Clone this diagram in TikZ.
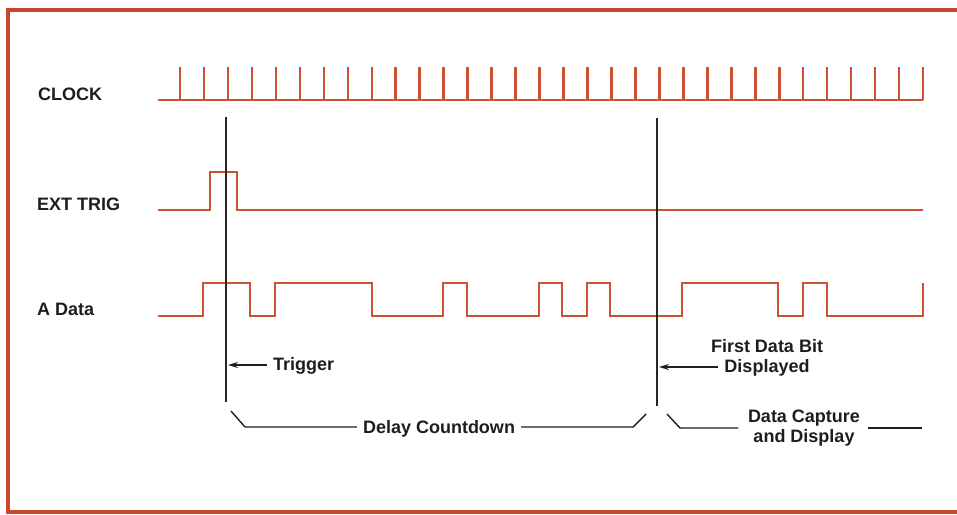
\documentclass[tikz,border=0pt]{standalone}
\usepackage{fontspec}
\setmainfont{Liberation Sans}
\usetikzlibrary{arrows.meta}
\definecolor{wave}{RGB}{205,82,52}
\definecolor{framered}{RGB}{200,70,45}
\definecolor{ink}{RGB}{30,30,30}
\begin{document}
\begin{tikzpicture}[x=1pt,y=-1pt,
  wavef/.style={draw=wave,line width=2.8pt,line join=miter},
  ticks/.style={draw=wave,line width=2.5pt},
  lbl/.style={font=\bfseries\fontsize{18}{20}\selectfont,text=ink,inner sep=0pt},
  marker/.style={draw=black!85,line width=1.6pt},
  note/.style={draw=ink,line width=1.4pt},
  ptr/.style={note,-{Stealth[length=10pt,width=6pt]}}]
\useasboundingbox (0,0) rectangle (957,514);
\fill[white] (0,0) rectangle (957,514);
\draw[framered,line width=4pt] (957,10) -- (8,10) -- (8,512) -- (957,512);

% signal labels
\node[lbl,anchor=base west] (clk) at (38,100) {CLOCK};
\node[lbl,anchor=base west] (ext) at (37,210) {EXT TRIG};
\node[lbl,anchor=base west] (adata) at (37,315) {A Data};

% clock
\draw[wavef] (158,100) -- (923,100);
\foreach \i in {0,...,31} {
  \draw[ticks] (180+\i*23.97,100) -- ++(0,-33);
}

% ext trig
\draw[wavef] (158,210) -| (210,172) -| (237,210) -- (923,210);

% A data
\draw[wavef] (158,316) -| (203,283) -| (250,316) -| (275,283) -| (372,316)
  -| (443,283) -| (467,316) -| (539,283) -| (562,316) -| (587,283) -| (610,316)
  -| (682,283) -| (778,316) -| (803,283) -| (827,316) -| (923,283);

% marker lines
\coordinate (m1top) at (226,117);
\coordinate (m1bot) at (226,402);
\coordinate (m2top) at (657,118);
\coordinate (m2bot) at (657,406);
\draw[marker] (m1top) -- (m1bot);
\draw[marker] (m2top) -- (m2bot);

% trigger label
\node[lbl,anchor=base west] (trig) at (273,370) {Trigger};
\coordinate (trigtip) at (228,365);
\draw[ptr] ([xshift=-6pt]trig.west |- trigtip) -- (trigtip);

% first data bit label
\node[lbl,anchor=base] (fdb) at (767,352) {First Data Bit};
\node[lbl,anchor=base] (disp) at (767,372) {Displayed};
\coordinate (disptip) at (659,367);
\draw[ptr] ([xshift=-6pt]disp.west |- disptip) -- (disptip);

% delay countdown bracket
\node[lbl,anchor=base] (dc) at (439,433) {Delay Countdown};
\coordinate (dcl) at (231,411);
\coordinate (dcr) at (646,414);
\draw[note] (dcl) -- (245,427) -- ([xshift=-6pt]dc.west |- 0,427);
\draw[note] ([xshift=6pt]dc.east |- 0,427) -- (633,427) -- (dcr);

% data capture bracket
\node[lbl,anchor=base] (cap1) at (804,422) {Data Capture};
\node[lbl,anchor=base] (cap2) at (804,442) {and Display};
\coordinate (capl) at (667,414);
\coordinate (capr) at (922,428);
\draw[note] (capl) -- (680,428) -- (738,428);
\draw[note] (868,428) -- (capr);
\end{tikzpicture}
\end{document}
